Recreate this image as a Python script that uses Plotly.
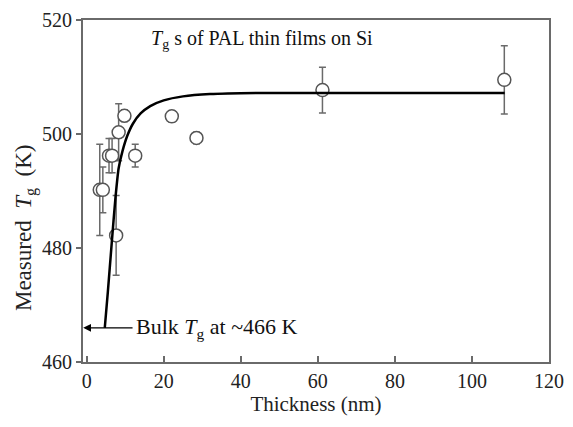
import plotly.graph_objects as go

# Measured data (thickness in nm, Tg in K, error in K)
thickness = [3.4, 4.2, 5.8, 6.6, 7.65, 8.3, 9.8, 12.6, 22.1, 28.5, 61.2, 108.4]
tg_measured = [490.2, 490.2, 496.2, 496.2, 482.2, 500.3, 503.2, 496.2, 503.1, 499.3, 507.7, 509.5]
tg_error = [8, 4, 3, 3, 7, 5, 1, 2, 1, 1, 4, 6]

# Fit curve
fit_x = [4.7, 5.5, 6.5, 7.5, 8.3, 9.3, 10.5, 12, 14, 16.5, 20, 25, 32, 45, 65, 108.5]
fit_y = [466, 472.3, 480.8, 489, 494, 497, 499.6, 501.8, 503.6, 504.9, 505.9, 506.6, 507.0, 507.2, 507.2, 507.2]

x_ticks = [0, 20, 40, 60, 80, 100, 120]
y_ticks = [460, 480, 500, 520]

FONT = "Liberation Serif, Times New Roman, serif"
AX = "#6a6a6a"

fig = go.Figure()
fig.add_trace(go.Scatter(
    x=thickness, y=tg_measured, mode="markers",
    marker=dict(symbol="circle", size=13, color="white", line=dict(color="#555555", width=1.5)),
    error_y=dict(type="data", array=tg_error, visible=True, color="#6a6a6a", thickness=1.5, width=3.5),
    showlegend=False, hoverinfo="skip",
))
fig.add_trace(go.Scatter(
    x=fit_x, y=fit_y, mode="lines", line=dict(color="black", width=2.5, shape="spline", smoothing=0.6),
    showlegend=False, hoverinfo="skip",
))

fig.add_annotation(x=-0.9, y=466, ax=12.3, ay=466, xref="x", yref="y", axref="x", ayref="y",
                   showarrow=True, arrowhead=2, arrowsize=1.2, arrowwidth=1.3, arrowcolor="black", text="")
fig.add_annotation(x=12.4, y=466, xref="x", yref="y", xanchor="left", yanchor="middle",
                   showarrow=False, text="Bulk <i>T</i><sub>g</sub> at ~466 K",
                   font=dict(family=FONT, size=22, color="#111111"))
fig.add_annotation(x=74.8, y=516.6, xref="x", yref="y", xanchor="right", yanchor="middle",
                   showarrow=False, text="<i>T</i><sub>g</sub> s of PAL thin films on Si",
                   font=dict(family=FONT, size=20, color="#111111"))
# y-axis title (placed as in the reference, slightly below the axis centre)
fig.add_annotation(x=0, y=483.5, xref="paper", yref="y", xshift=-58, xanchor="center", yanchor="middle",
                   textangle=-90, showarrow=False,
                   text="Measured&nbsp;&nbsp;<i>T</i><sub>g</sub>&nbsp;&nbsp;(K)",
                   font=dict(family=FONT, size=23, color="#222222"))

fig.update_layout(
    width=573, height=427,
    margin=dict(l=83, r=16, t=9, b=65),
    paper_bgcolor="white", plot_bgcolor="white",
    font=dict(family=FONT, size=20, color="#222222"),
    xaxis=dict(range=[-0.95, 120], tickvals=x_ticks, ticks="inside", ticklen=6, tickcolor=AX, tickwidth=1.5,
               showline=True, linecolor=AX, linewidth=1.8, mirror=True, showgrid=False, zeroline=False,
               title=dict(text="Thickness (nm)", font=dict(size=21), standoff=4),
               tickfont=dict(size=20)),
    yaxis=dict(range=[460, 520], tickvals=y_ticks, ticks="outside", ticklen=5, tickcolor=AX, tickwidth=1.5,
               showline=True, linecolor=AX, linewidth=1.8, mirror=True, showgrid=False, zeroline=False,
               tickfont=dict(size=20)),
)

fig.write_html("out.html", config={"displayModeBar": False},
               post_script="document.body.style.margin='0px';")
